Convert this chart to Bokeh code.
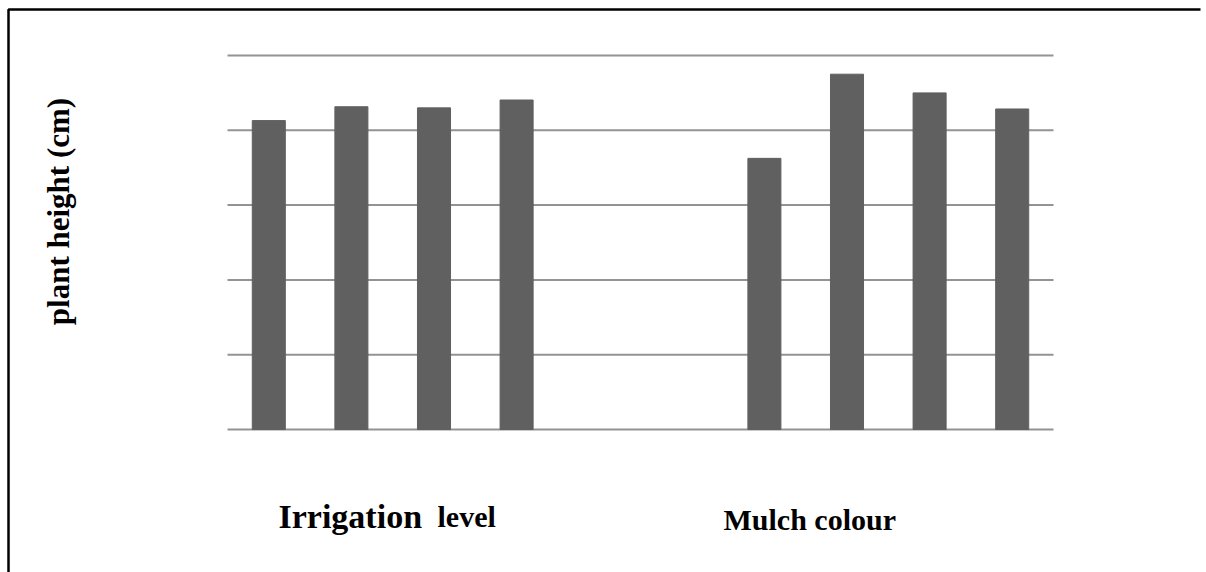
import math
from bokeh.plotting import figure
from bokeh.models import Range1d, Label
from bokeh.embed import file_html
from bokeh.resources import INLINE

categories = ["I1", "I2", "I3", "I4", "gap1", "gap2", "M1", "M2", "M3", "M4"]
heights = [82.6, 86.3, 86.0, 88.1, None, None, 72.5, 95.0, 90.0, 85.7]
grid_ticks = [0, 20, 40, 60, 80, 100]

W, H = 1206, 572
# layout of the plotting area inside the canvas (pixels)
AREA_L, AREA_R, AREA_T, AREA_B = 227, 1053, 55, 429
n = len(categories)
px_per_x = (AREA_R - AREA_L) / n
px_per_y = (AREA_B - AREA_T) / (grid_ticks[-1] - grid_ticks[0])
x_start = -AREA_L / px_per_x
x_end = n + (W - AREA_R) / px_per_x
y_start = -(H - AREA_B) / px_per_y
y_end = grid_ticks[-1] + AREA_T / px_per_y

xs = [i + 0.5 for i, h in enumerate(heights) if h is not None]
ys = [h for h in heights if h is not None]

p = figure(width=W, height=H, x_range=Range1d(x_start, x_end), y_range=Range1d(y_start, y_end),
           output_backend="svg", toolbar_location=None,
           min_border=0, min_border_left=0, min_border_right=0, min_border_top=0, min_border_bottom=0)
p.outline_line_color = None
p.xaxis.visible = False
p.yaxis.visible = False
p.grid.visible = False

p.segment(x0=[0] * len(grid_ticks), x1=[n] * len(grid_ticks), y0=grid_ticks, y1=grid_ticks,
          line_color="#939393", line_width=2)
p.vbar(x=xs, top=ys, bottom=0, width=0.4, fill_color="#606060", line_color="#606060")

# page border (top and left edges only, the rest is cropped in the reference)
bx = x_start + 8 / px_per_x
by = y_end - 9 / px_per_y
p.line(x=[x_start + (W - 6) / px_per_x, bx, bx], y=[by, by, y_start + 0.5 / px_per_y],
       line_color="black", line_width=2.5)

font = "Liberation Serif"
def lab(x, y, text, size, **kw):
    p.add_layout(Label(x=x, y=H - y, x_units="screen", y_units="screen", text=text,
                       text_font=font, text_font_style="bold", text_font_size=size,
                       text_color="black", **kw))

lab(278, 516, "Irrigation", "34px", text_baseline="alphabetic")
lab(437, 516, "level", "30px", text_baseline="alphabetic")
lab(723, 519, "Mulch colour", "30px", text_baseline="alphabetic")
lab(58, 211, "plant height (cm)", "31px", text_align="center", text_baseline="middle",
    angle=math.pi / 2)

open("out.html", "w").write(file_html(p, INLINE))
